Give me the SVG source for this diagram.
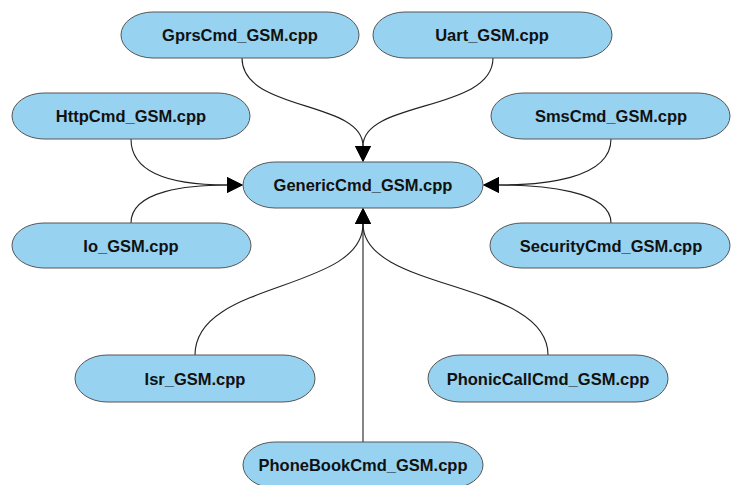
<svg xmlns="http://www.w3.org/2000/svg" width="737" height="485" viewBox="0 0 737 485">
<style>
.n rect{fill:#97d3f0;stroke:#555;stroke-width:1}
.n text{font-family:"Liberation Sans",Arial,sans-serif;font-weight:bold;font-size:16.5px;fill:#111;text-anchor:middle;dominant-baseline:central}
.e path{fill:none;stroke:#222;stroke-width:1.1}
</style>
<defs>
<marker id="ah" viewBox="0 0 16 16" refX="0" refY="8" markerWidth="16" markerHeight="16" markerUnits="userSpaceOnUse" orient="auto">
<path d="M0,0 L16,8 L0,16 z" fill="#000"/>
</marker>
</defs>
<rect width="737" height="485" fill="#fff"/>
<g id="edges" class="e">
<path d="M242,58 C242,112 363,100 363,146" marker-end="url(#ah)"/>
<path d="M493,58 C493,112 363,100 363,146" marker-end="url(#ah)"/>
<path d="M131,139 C131,180 190,185 227,185" marker-end="url(#ah)"/>
<path d="M131,223 C131,190 190,185 227,185" marker-end="url(#ah)"/>
<path d="M611,139 C611,180 540,185 499,185" marker-end="url(#ah)"/>
<path d="M611,223 C611,190 540,185 499,185" marker-end="url(#ah)"/>
<path d="M195,355 C195,280 363,292 363,224" marker-end="url(#ah)"/>
<path d="M548,355 C548,280 363,292 363,224" marker-end="url(#ah)"/>
<path d="M363,442 L363,224" marker-end="url(#ah)"/>
</g>
<g id="gprs" class="n"><rect x="121" y="12" width="238" height="46" rx="32" ry="23"/><text x="240" y="35">GprsCmd_GSM.cpp</text></g>
<g id="uart" class="n"><rect x="373" y="12" width="239" height="46" rx="32" ry="23"/><text x="492" y="35">Uart_GSM.cpp</text></g>
<g id="http" class="n"><rect x="12" y="93" width="238" height="46" rx="32" ry="23"/><text x="131" y="116">HttpCmd_GSM.cpp</text></g>
<g id="sms" class="n"><rect x="491" y="93" width="239" height="46" rx="32" ry="23"/><text x="611" y="116">SmsCmd_GSM.cpp</text></g>
<g id="generic" class="n"><rect x="243" y="162" width="240" height="46" rx="32" ry="23"/><text x="363" y="185">GenericCmd_GSM.cpp</text></g>
<g id="io" class="n"><rect x="12" y="223" width="239" height="45" rx="32" ry="22.5"/><text x="131" y="245.5">Io_GSM.cpp</text></g>
<g id="security" class="n"><rect x="490" y="223" width="240" height="45" rx="32" ry="22.5"/><text x="611" y="245.5">SecurityCmd_GSM.cpp</text></g>
<g id="isr" class="n"><rect x="75" y="355" width="240" height="47" rx="32" ry="23.5"/><text x="195" y="378.5">Isr_GSM.cpp</text></g>
<g id="phonic" class="n"><rect x="428" y="355" width="240" height="47" rx="32" ry="23.5"/><text x="548" y="378.5">PhonicCallCmd_GSM.cpp</text></g>
<g id="phonebook" class="n"><rect x="243" y="442" width="240" height="46" rx="32" ry="23"/><text x="363" y="465">PhoneBookCmd_GSM.cpp</text></g>
</svg>
